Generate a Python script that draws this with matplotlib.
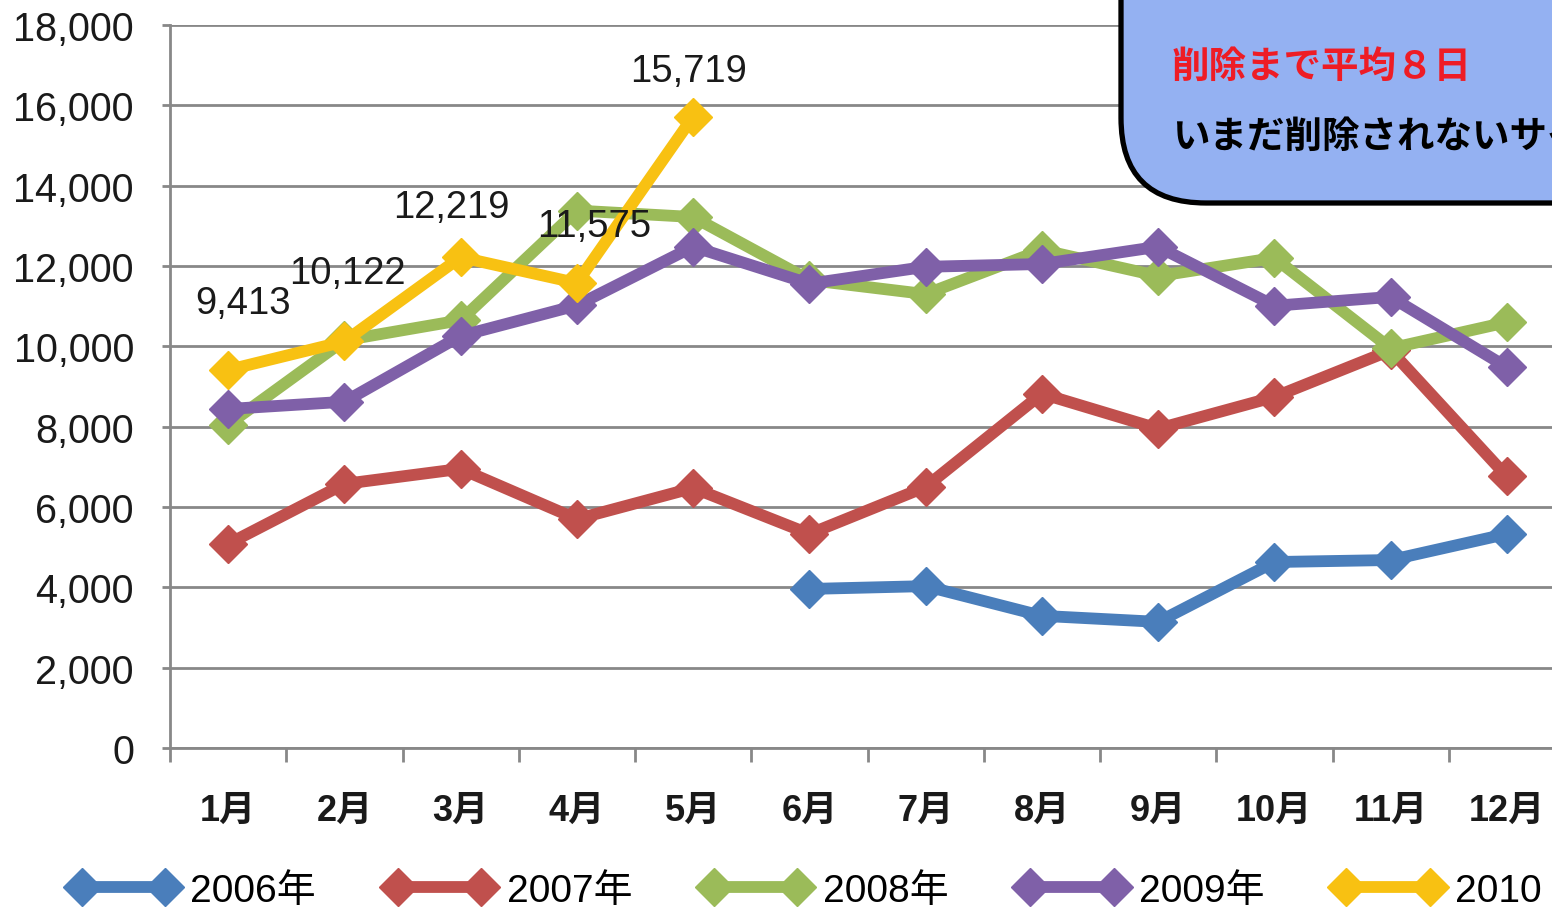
import numpy as np
import matplotlib
matplotlib.use("Agg")
import matplotlib.pyplot as plt
from matplotlib.patches import FancyBboxPatch

plt.rcParams['font.family'] = ['Liberation Sans', 'Noto Sans CJK JP', 'DejaVu Sans']

# ===== data =====
months = ["1月", "2月", "3月", "4月", "5月", "6月", "7月", "8月", "9月", "10月", "11月", "12月"]
nan = np.nan
y2006 = [nan, nan, nan, nan, nan, 3960, 4030, 3290, 3140, 4630, 4680, 5330]
y2007 = [5080, 6575, 6950, 5700, 6475, 5330, 6500, 8820, 7950, 8740, 9900, 6760]
y2008 = [8050, 10150, 10650, 13380, 13220, 11650, 11300, 12400, 11750, 12200, 9950, 10600]
y2009 = [8440, 8620, 10260, 11020, 12480, 11560, 11980, 12050, 12480, 11010, 11230, 9480]
y2010 = [9413, 10122, 12219, 11575, 15719]
series = ["2006年", "2007年", "2008年", "2009年", "2010"]
colors = ["#4a7ebb", "#c0504d", "#9bbb59", "#7f60a8", "#f8c112"]

# label offsets (pixels) for 2010 values
lab_off = [(15, 67), (3, 68), (-9, 50), (17, 57), (-5, 46)]

fig = plt.figure(figsize=(15.52, 9.12), dpi=100)
fig.patch.set_facecolor("white")
ax = fig.add_axes([170/1552, 163/912, 1395/1552, 723/912])

x = np.arange(12)
for vals, col, name in zip([y2006, y2007, y2008, y2009, y2010], colors, series):
    ax.plot(x[:len(vals)], vals, color=col, lw=8.5, marker="D", ms=19,
            mec=col, mfc=col, label=name, solid_joinstyle="round", zorder=3)

for i, v in enumerate(y2010):
    ax.annotate(f"{v:,}", xy=(x[i], v), xytext=lab_off[i], textcoords="offset pixels",
                ha="center", va="center", fontsize=27.5, color="#1a1a1a", zorder=5)

ax.set_xlim(-0.5, 11.5)
ax.set_ylim(0, 18000)
ax.set_yticks(range(0, 18001, 2000))
ax.set_yticklabels([f"{v:,}" for v in range(0, 18001, 2000)])
ax.grid(axis="y", color="#888888", lw=2)
ax.set_axisbelow(True)
for s in ["top", "right"]:
    ax.spines[s].set_visible(False)
ax.spines["left"].set_color("#888888")
ax.spines["left"].set_linewidth(2)
ax.spines["bottom"].set_color("#888888")
ax.spines["bottom"].set_linewidth(2)
ax.tick_params(axis="y", labelsize=28.5, length=6, width=2, color="#888888", pad=20, labelcolor="#1a1a1a")
ax.set_xticks(x)
ax.set_xticklabels(months, fontsize=26, fontweight="bold", color="#1a1a1a")
ax.tick_params(axis="x", length=0, pad=32)
ax.set_xticks(np.arange(-0.5, 12, 1), minor=True)
ax.tick_params(axis="x", which="minor", length=10, width=2, color="#888888")

fig.legend(loc="center left", bbox_to_anchor=(0.035, 0.022), ncol=5, frameon=False,
           fontsize=28, numpoints=2, handlelength=2.75, handletextpad=0.35,
           columnspacing=1.8, borderaxespad=0)

# ===== callout box (pixel overlay) =====
ov = fig.add_axes([0, 0, 1, 1], zorder=10)
ov.set_xlim(0, 1552)
ov.set_ylim(912, 0)
ov.axis("off")
ov.patch.set_alpha(0)
box = FancyBboxPatch((1121, -100), 700, 304, boxstyle="round,pad=0,rounding_size=85",
                     facecolor="#94b1f2", edgecolor="black", lw=3.8)
ov.add_patch(box)
ov.text(1172, 68, "削除まで平均８日", color="#ee1c25", fontsize=27, fontweight="bold",
        va="center", ha="left")
ov.text(1172, 138, "いまだ削除されないサイト", color="black", fontsize=27, fontweight="bold",
        va="center", ha="left")

fig.savefig("out.png", dpi=100, facecolor="white")
